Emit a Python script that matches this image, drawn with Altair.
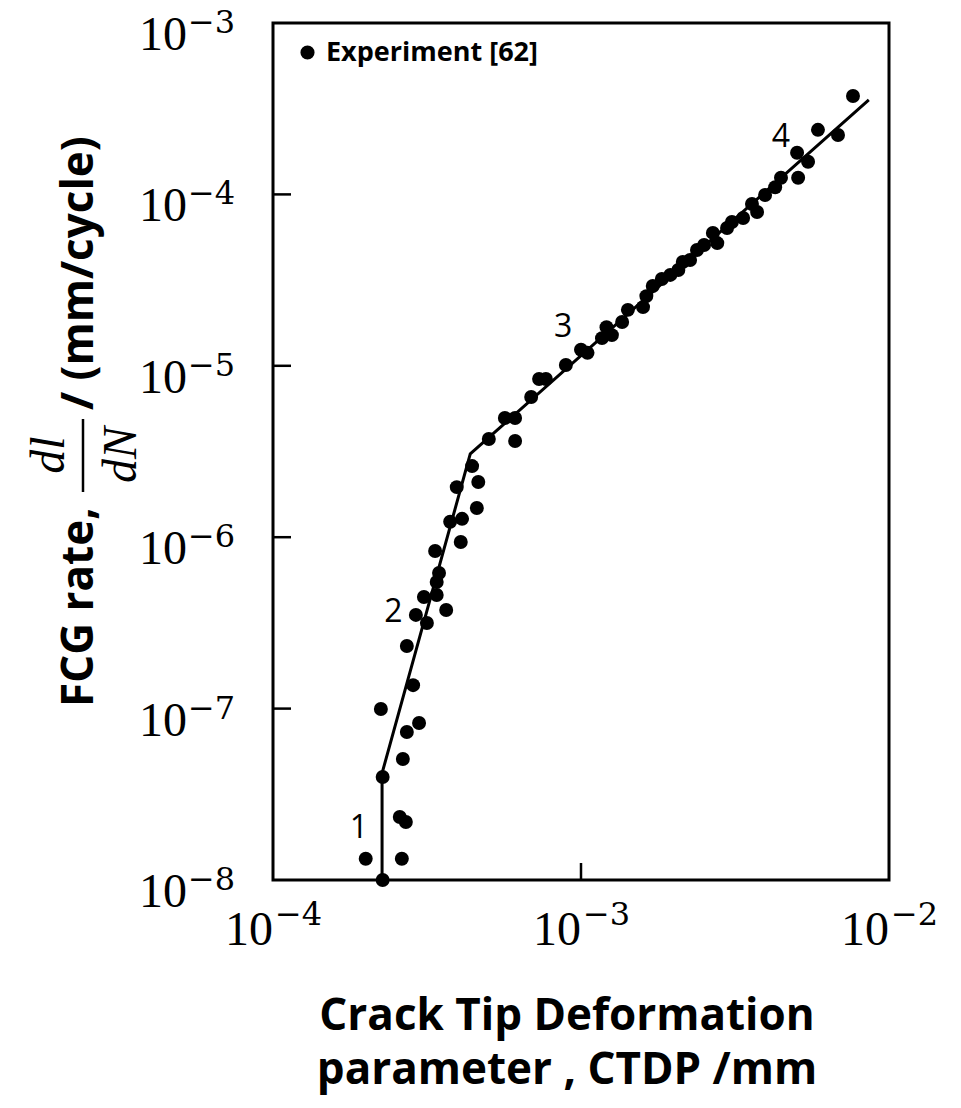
import altair as alt
import pandas as pd

# ---- data ----
ctdp = [2.27e-4, 2.00e-4, 2.62e-4, 2.58e-4, 2.70e-4, 2.27e-4, 2.64e-4, 2.72e-4, 2.98e-4, 2.24e-4,
        2.85e-4, 2.72e-4, 2.91e-4, 3.16e-4, 3.65e-4, 3.09e-4, 3.40e-4, 3.40e-4, 3.46e-4, 3.36e-4,
        4.07e-4, 3.76e-4, 4.11e-4, 4.59e-4, 3.95e-4, 4.64e-4, 4.43e-4, 5.02e-4, 6.11e-4, 5.66e-4,
        6.11e-4, 6.89e-4, 7.31e-4, 7.69e-4, 8.93e-4, 1.00e-3, 1.05e-3, 1.17e-3, 1.21e-3, 1.26e-3,
        1.36e-3, 1.42e-3, 1.59e-3, 1.63e-3, 1.71e-3, 1.83e-3, 1.95e-3, 2.07e-3, 2.14e-3, 2.26e-3,
        2.38e-3, 2.51e-3, 2.68e-3, 2.77e-3, 2.98e-3, 3.09e-3, 3.36e-3, 3.59e-3, 3.73e-3, 3.96e-3,
        4.27e-3, 4.46e-3, 5.07e-3, 5.03e-3, 5.46e-3, 5.88e-3, 6.83e-3, 7.64e-3]
rate = [1.00e-8, 1.33e-8, 1.33e-8, 2.33e-8, 2.18e-8, 3.99e-8, 5.08e-8, 7.30e-8, 8.24e-8, 9.95e-8,
        1.37e-7, 2.32e-7, 3.52e-7, 3.16e-7, 3.76e-7, 4.48e-7, 4.60e-7, 5.48e-7, 6.18e-7, 8.31e-7,
        9.37e-7, 1.23e-6, 1.28e-6, 1.48e-6, 1.96e-6, 2.10e-6, 2.60e-6, 3.74e-6, 3.64e-6, 4.96e-6,
        4.96e-6, 6.58e-6, 8.37e-6, 8.37e-6, 1.01e-5, 1.24e-5, 1.19e-5, 1.45e-5, 1.68e-5, 1.51e-5,
        1.80e-5, 2.12e-5, 2.20e-5, 2.55e-5, 2.92e-5, 3.21e-5, 3.39e-5, 3.62e-5, 4.03e-5, 4.14e-5,
        4.74e-5, 5.07e-5, 5.96e-5, 5.20e-5, 6.37e-5, 6.90e-5, 7.28e-5, 8.79e-5, 7.89e-5, 9.92e-5,
        1.10e-4, 1.25e-4, 1.25e-4, 1.75e-4, 1.55e-4, 2.38e-4, 2.22e-4, 3.75e-4]
series_name = "Experiment [62]"

fit_ctdp = [2.26e-4, 2.26e-4, 4.37e-4, 8.60e-3]
fit_rate = [1.0e-8, 4.2e-8, 3.06e-6, 3.56e-4]

region_text = ["1", "2", "3", "4"]
region_ctdp = [1.90e-4, 2.46e-4, 8.75e-4, 4.46e-3]
region_rate = [2.01e-8, 3.66e-7, 1.68e-5, 2.16e-4]

x_label_vals = [1e-4, 1e-3, 1e-2]
x_label_exp = ["\u22124", "\u22123", "\u22122"]
y_label_vals = [1e-3, 1e-4, 1e-5, 1e-6, 1e-7, 1e-8]
y_label_exp = ["\u22123", "\u22124", "\u22125", "\u22126", "\u22127", "\u22128"]
x_inner_ticks = [1e-3]
y_inner_ticks = [1e-4, 1e-5, 1e-6, 1e-7]

x_title_1 = "Crack Tip Deformation"
x_title_2 = "parameter , CTDP /mm"
y_title_left = "FCG rate,"
y_title_num = "dl"
y_title_den = "dN"
y_title_right = "/ (mm/cycle)"

# ---- layout ----
W, H = 616, 857
xs = alt.Scale(type="log", domain=[1e-4, 1e-2], nice=False)
ys = alt.Scale(type="log", domain=[1e-8, 1e-3], nice=False)

pts_df = pd.DataFrame({"ctdp": ctdp, "rate": rate, "series": series_name})
fit_df = pd.DataFrame({"ctdp": fit_ctdp, "rate": fit_rate, "idx": list(range(len(fit_ctdp)))})
reg_df = pd.DataFrame({"ctdp": region_ctdp, "rate": region_rate, "t": region_text})
xl_df = pd.DataFrame({"v": x_label_vals, "e": x_label_exp, "b": "10"})
yl_df = pd.DataFrame({"v": y_label_vals, "e": y_label_exp, "b": "10"})
xt_df = pd.DataFrame({"v": x_inner_ticks})
yt_df = pd.DataFrame({"v": y_inner_ticks})


def one(text):
    return pd.DataFrame({"t": [text]})


def X(f):
    return alt.X(f, scale=xs, axis=None)


def Y(f):
    return alt.Y(f, scale=ys, axis=None)


points = alt.Chart(pts_df).mark_circle(size=195, opacity=1).encode(
    x=X("ctdp:Q"), y=Y("rate:Q"),
    color=alt.Color("series:N", scale=alt.Scale(range=["black"]),
                    legend=alt.Legend(title=None, orient="none", legendX=21, legendY=16,
                                      symbolType="circle", symbolSize=200, symbolStrokeWidth=0,
                                      labelFont="Open Sans", labelFontSize=27,
                                      labelFontWeight="bold", labelColor="black",
                                      labelOffset=5, labelLimit=0, padding=0)),
)

fit = alt.Chart(fit_df).mark_line(color="black", strokeWidth=3).encode(
    x=X("ctdp:Q"), y=Y("rate:Q"), order="idx:Q")

regions = alt.Chart(reg_df).mark_text(font="Open Sans", fontSize=32, color="black").encode(
    x=X("ctdp:Q"), y=Y("rate:Q"), text="t:N")

yticks = alt.Chart(yt_df).mark_rule(color="black", strokeWidth=2.5).encode(
    y=Y("v:Q"), x=alt.value(0), x2=alt.value(18))
xticks = alt.Chart(xt_df).mark_rule(color="black", strokeWidth=2.5).encode(
    x=X("v:Q"), y=alt.value(H), y2=alt.value(H - 17))

ylab_base = alt.Chart(yl_df).mark_text(font="Liberation Serif", fontSize=48, align="right",
                                       baseline="alphabetic", dy=27, color="black").encode(
    y=Y("v:Q"), x=alt.value(-86), text="b:N")
ylab_exp = alt.Chart(yl_df).mark_text(font="DejaVu Serif", fontSize=32, align="left",
                                      baseline="alphabetic", dy=10, color="black").encode(
    y=Y("v:Q"), x=alt.value(-85), text="e:N")

xlab_base = alt.Chart(xl_df).mark_text(font="Liberation Serif", fontSize=48, align="right",
                                       baseline="alphabetic", color="black").encode(
    x=X("v:Q"), y=alt.value(H + 65), text="b:N")
xlab_exp = alt.Chart(xl_df).mark_text(font="DejaVu Serif", fontSize=32, align="left",
                                      baseline="alphabetic", dx=2, color="black").encode(
    x=X("v:Q"), y=alt.value(H + 45), text="e:N")

# ---- x-axis title (two lines) ----
xt1 = alt.Chart(one(x_title_1)).mark_text(
    align="center", baseline="alphabetic", font="Open Sans", fontWeight="bold",
    fontSize=44, color="black").encode(x=alt.value(294), y=alt.value(H + 150), text="t:N")
xt2 = alt.Chart(one(x_title_2)).mark_text(
    align="center", baseline="alphabetic", font="Open Sans", fontWeight="bold",
    fontSize=44, color="black").encode(x=alt.value(294), y=alt.value(H + 204), text="t:N")

# ---- y-axis title with fraction dl/dN ----
title_a = alt.Chart(one(y_title_left)).mark_text(
    angle=270, align="left", baseline="alphabetic", font="Open Sans", fontWeight="bold",
    fontSize=44, color="black").encode(x=alt.value(-180), y=alt.value(684), text="t:N")
title_num = alt.Chart(one(y_title_num)).mark_text(
    angle=270, align="center", baseline="alphabetic", font="Liberation Serif",
    fontStyle="italic", fontSize=48, color="black").encode(
    x=alt.value(-209), y=alt.value(432), text="t:N")
title_bar = alt.Chart(one("bar")).mark_rule(color="black", strokeWidth=2.5).encode(
    x=alt.value(-190), y=alt.value(396), y2=alt.value(469), detail="t:N")
title_den = alt.Chart(one(y_title_den)).mark_text(
    angle=270, align="center", baseline="alphabetic", font="Liberation Serif",
    fontStyle="italic", fontSize=48, color="black").encode(
    x=alt.value(-137), y=alt.value(432), text="t:N")
title_b = alt.Chart(one(y_title_right)).mark_text(
    angle=270, align="left", baseline="alphabetic", font="Open Sans", fontWeight="bold",
    fontSize=44, color="black").encode(x=alt.value(-180), y=alt.value(387), text="t:N")

chart = alt.layer(
    fit, points, regions, yticks, xticks, ylab_base, ylab_exp, xlab_base, xlab_exp,
    xt1, xt2, title_a, title_num, title_bar, title_den, title_b,
).properties(
    width=W, height=H,
    autosize=alt.AutoSizeParams(type="none"),
    padding={"left": 273, "top": 23, "right": 72, "bottom": 228},
    background="white",
).configure_view(stroke="black", strokeWidth=3)

chart.save("out.html", embed_options={"renderer": "svg", "actions": False})
